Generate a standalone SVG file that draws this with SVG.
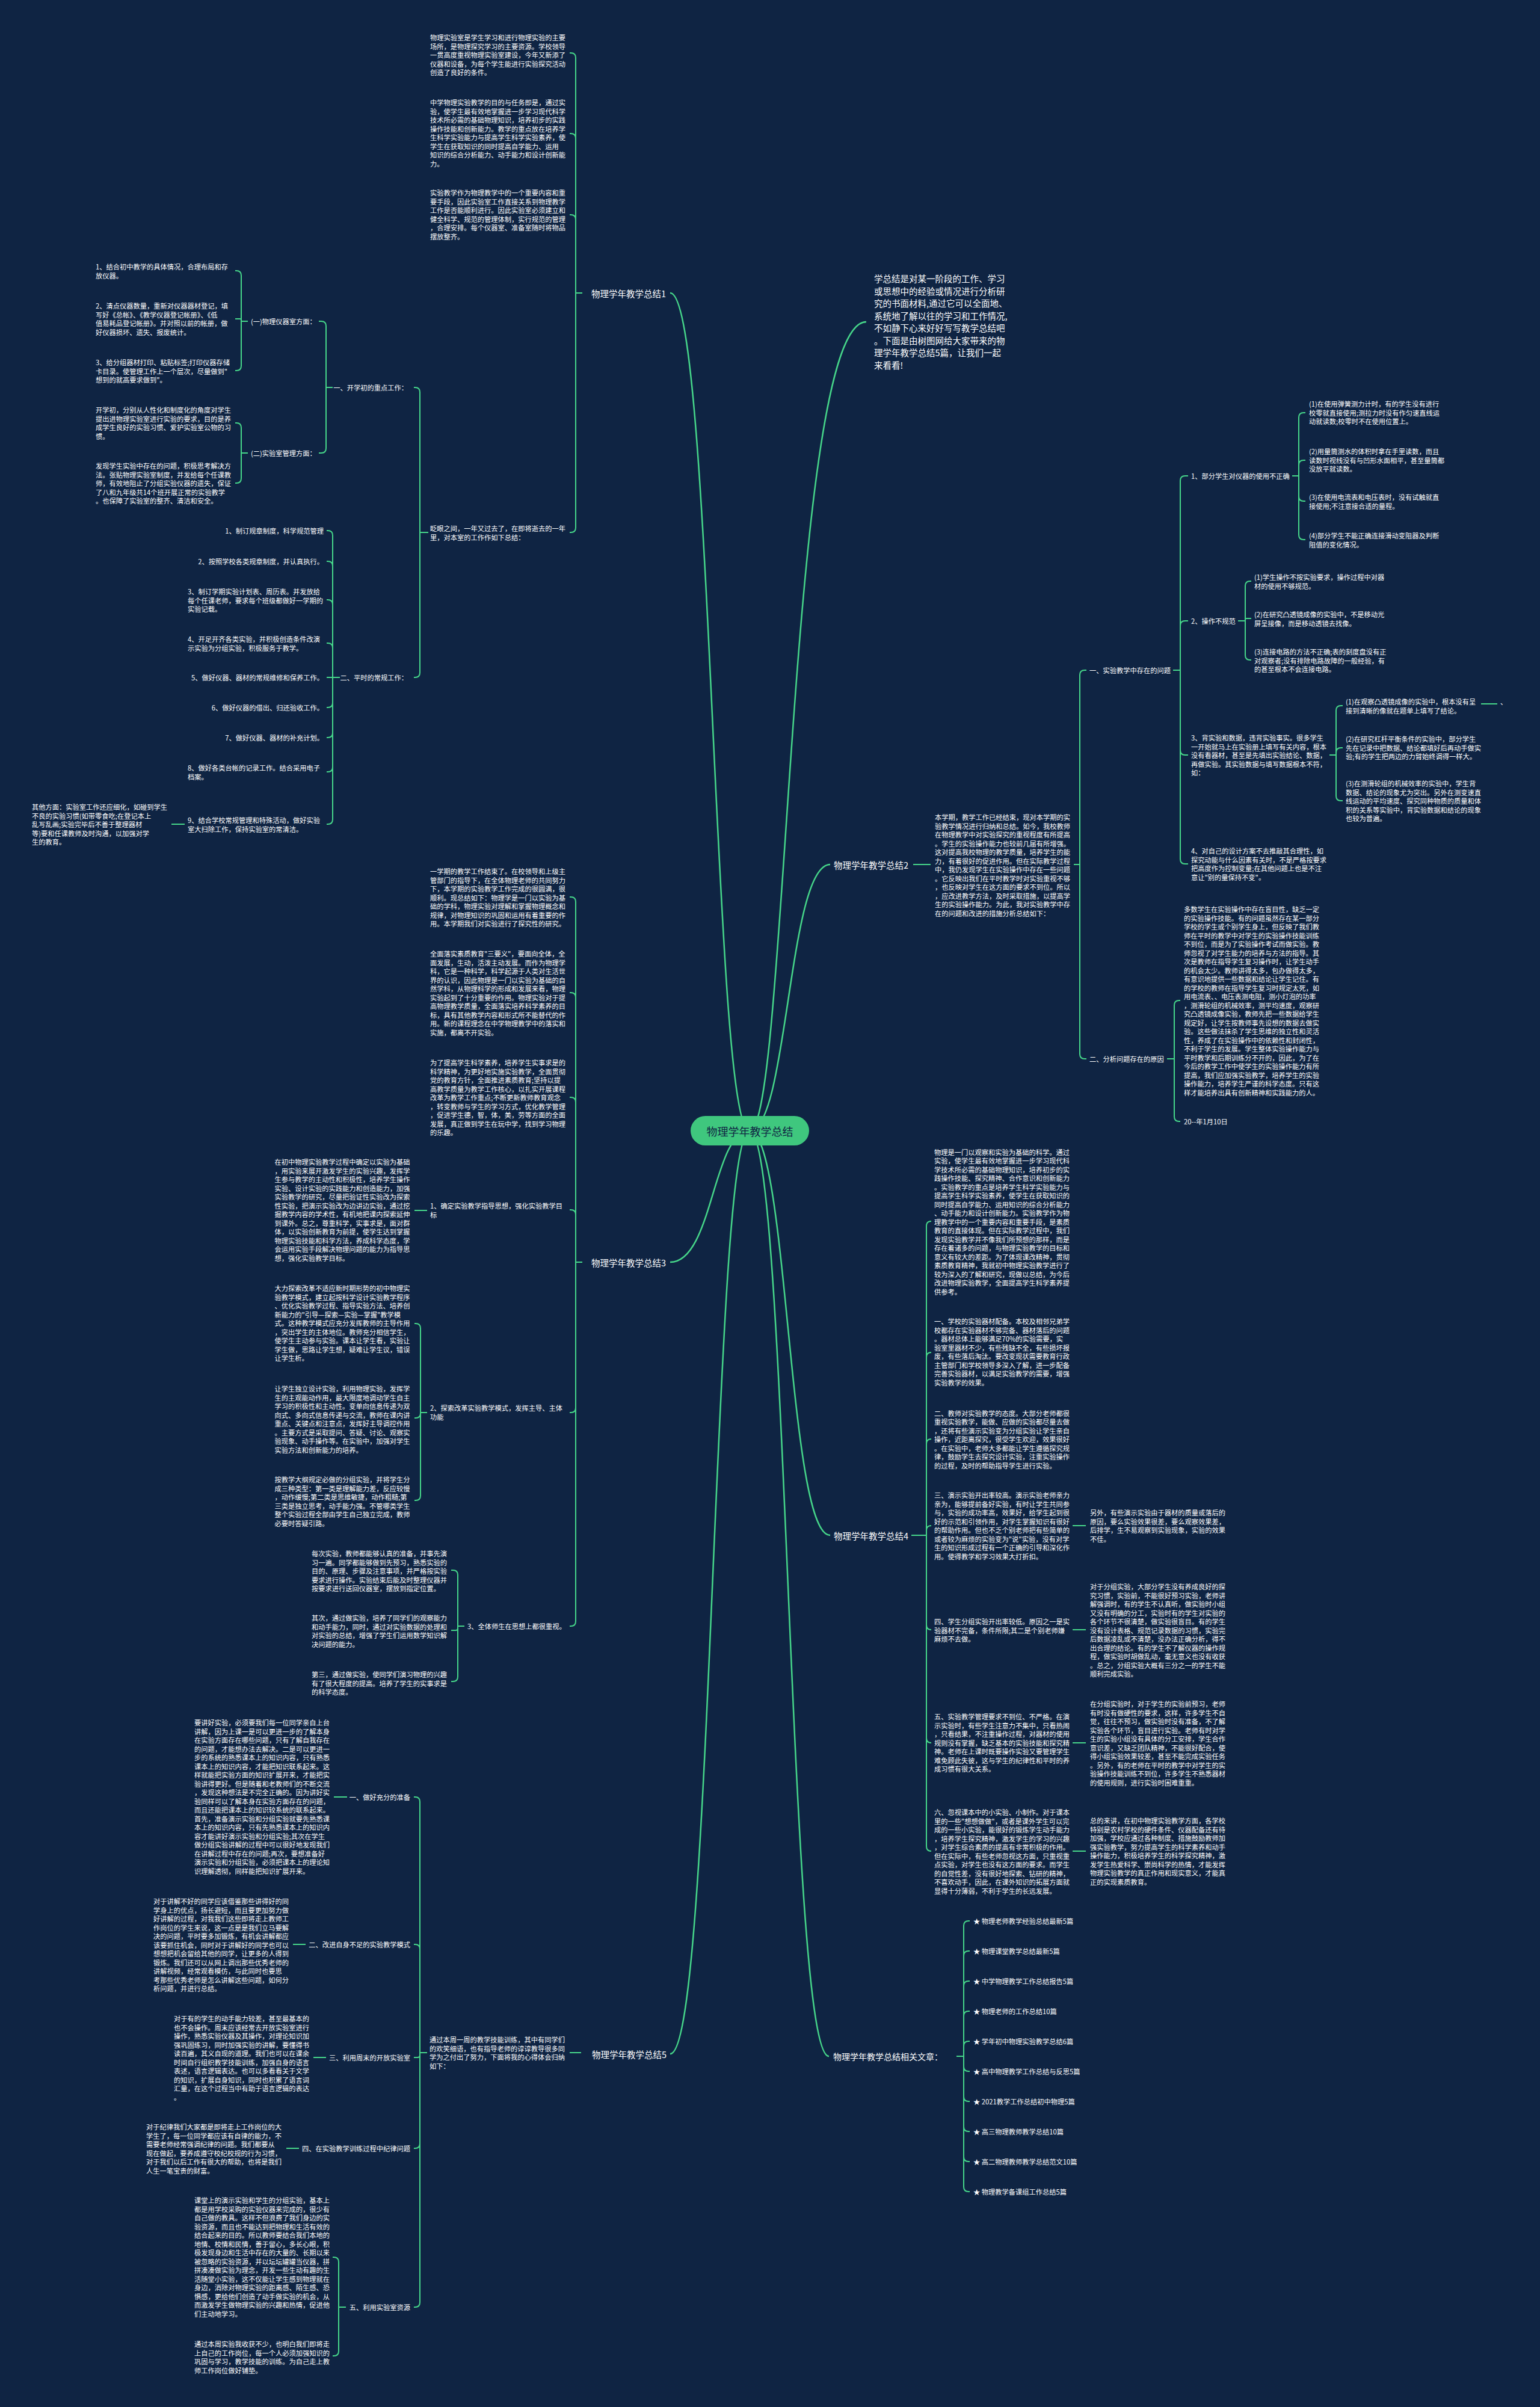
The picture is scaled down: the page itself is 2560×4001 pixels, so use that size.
<svg xmlns="http://www.w3.org/2000/svg" width="2560" height="4001" viewBox="0 0 2560 4001">
<style>
text{font-family:'Noto Sans CJK SC','Noto Sans',sans-serif;fill:#ffffff;dominant-baseline:central}
.t{font-size:11.25px}
.m{font-size:14.5px}
.i{font-size:14.5px}
.c{font-size:18px;fill:#0f2443;text-anchor:middle}
.e{text-anchor:end}
.ln{fill:none;stroke:#46d68a;stroke-width:2}
.mn{fill:none;stroke:#46d68a;stroke-width:2.5}
</style>
<rect x="0" y="0" width="2560" height="4001" fill="#0f2443"/>

<g id="connectors">
<path class="mn" d="M1246 1880 C1185 1880 1185 487 1114 487"/>
<path class="mn" d="M1246 1880 C1310 1880 1310 535 1440 535"/>
<path class="mn" d="M1246 1880 C1310 1880 1310 1437 1380 1437"/>
<path class="mn" d="M1246 1880 C1185 1880 1185 2098 1114 2098"/>
<path class="mn" d="M1246 1880 C1310 1880 1310 2552 1380 2552"/>
<path class="mn" d="M1246 1880 C1310 1880 1310 3418 1378 3418"/>
<path class="mn" d="M1246 1880 C1185 1880 1185 3414 1114 3414"/>
<!-- B1 -->
<path class="ln" d="M968 487 H957 V96 Q957 88 949 88 H947 M968 487 H957 V230 Q957 222 949 222 H947 M968 487 H957 V365 Q957 357 949 357 H947 M968 487 H957 V877 Q957 885 949 885 H947"/>
<path class="ln" d="M712 885 H698 V652 Q698 644 690 644 H688 M712 885 H698 V1118 Q698 1126 690 1126 H688"/>
<path class="ln" d="M553 644 H542 V542 Q542 534 534 534 H530 M553 644 H542 V745 Q542 753 534 753 H530"/>
<path class="ln" d="M412 534 H401 V458 Q401 450 393 450 H391 M412 534 H401 V532 Q401 530 399 530 H391 M412 534 H401 V608 Q401 616 393 616 H391"/>
<path class="ln" d="M412 753 H401 V711 Q401 703 393 703 H391 M412 753 H401 V795 Q401 803 393 803 H391"/>
<path class="ln" d="M565 1126 H553 V890 Q553 882 545 882 H543 M565 1126 H553 V941 Q553 933 545 933 H543 M565 1126 H553 V1005 Q553 997 545 997 H543 M565 1126 H553 V1077 Q553 1069 545 1069 H543 M565 1126 H543 M565 1126 H553 V1168 Q553 1176 545 1176 H543 M565 1126 H553 V1218 Q553 1226 545 1226 H543 M565 1126 H553 V1275 Q553 1283 545 1283 H543 M565 1126 H553 V1362 Q553 1370 545 1370 H543"/>
<path class="ln" d="M307 1370 H285"/>
<!-- B2 -->
<path class="ln" d="M1518 1437 H1547"/>
<path class="ln" d="M1785 1437 H1795 V1122 Q1795 1114 1803 1114 H1806 M1785 1437 H1795 V1752 Q1795 1760 1803 1760 H1806"/>
<path class="ln" d="M1950 1114 H1962 V799 Q1962 791 1970 791 H1975 M1950 1114 H1962 V1040 Q1962 1032 1970 1032 H1975 M1950 1114 H1962 V1247 Q1962 1255 1970 1255 H1975 M1950 1114 H1962 V1428 Q1962 1436 1970 1436 H1975"/>
<path class="ln" d="M2148 791 H2159 V694 Q2159 686 2167 686 H2170 M2148 791 H2159 V773 Q2159 765 2167 765 H2170 M2148 791 H2159 V825 Q2159 833 2167 833 H2170 M2148 791 H2159 V889 Q2159 897 2167 897 H2170"/>
<path class="ln" d="M2058 1032 H2070 V974 Q2070 966 2078 966 H2080 M2058 1032 H2070 V1030 Q2070 1028 2072 1028 H2080 M2058 1032 H2070 V1089 Q2070 1097 2078 1097 H2080"/>
<path class="ln" d="M2210 1255 H2221 V1181 Q2221 1173 2229 1173 H2232 M2210 1255 H2221 V1251 Q2221 1243 2229 1243 H2232 M2210 1255 H2221 V1323 Q2221 1331 2229 1331 H2232"/>
<path class="ln" d="M2462 1170 H2489"/>
<path class="ln" d="M1940 1760 H1952 V1671 Q1952 1663 1960 1663 H1962 M1940 1760 H1952 V1856 Q1952 1864 1960 1864 H1962"/>
<!-- B4 -->
<path class="ln" d="M1515 2552 H1540 V2038 Q1540 2030 1548 2030 M1515 2552 H1540 V2256 Q1540 2248 1548 2248 M1515 2552 H1540 V2400 Q1540 2392 1548 2392 M1515 2552 H1540 V2544 Q1540 2536 1548 2536 M1515 2552 H1540 V2701 Q1540 2709 1548 2709 M1515 2552 H1540 V2889 Q1540 2897 1548 2897 M1515 2552 H1540 V3069 Q1540 3077 1548 3077"/>
<path class="ln" d="M1783 2536 H1805 M1783 2709 H1805 M1783 2897 H1805 M1783 3077 H1805"/>
<!-- related -->
<path class="ln" d="M1590 3418 H1602 V3201 Q1602 3193 1610 3193 H1612 M1590 3418 H1602 V3251 Q1602 3243 1610 3243 H1612 M1590 3418 H1602 V3301 Q1602 3293 1610 3293 H1612 M1590 3418 H1602 V3351 Q1602 3343 1610 3343 H1612 M1590 3418 H1602 V3401 Q1602 3393 1610 3393 H1612 M1590 3418 H1602 V3435 Q1602 3443 1610 3443 H1612 M1590 3418 H1602 V3485 Q1602 3493 1610 3493 H1612 M1590 3418 H1602 V3535 Q1602 3543 1610 3543 H1612 M1590 3418 H1602 V3585 Q1602 3593 1610 3593 H1612 M1590 3418 H1602 V3635 Q1602 3643 1610 3643 H1612"/>
<!-- B3 -->
<path class="ln" d="M968 2098 H957 V1499 Q957 1491 949 1491 H947 M968 2098 H957 V1658 Q957 1650 949 1650 H947 M968 2098 H957 V1832 Q957 1824 949 1824 H947 M968 2098 H957 V2019 Q957 2011 949 2011 H947 M968 2098 H957 V2340 Q957 2348 949 2348 H947 M968 2098 H957 V2695 Q957 2703 949 2703 H947"/>
<path class="ln" d="M710 2012 H689"/>
<path class="ln" d="M710 2348 H699 V2208 Q699 2200 691 2200 H689 M710 2348 H699 V2349 Q699 2357 691 2357 H689 M710 2348 H699 V2486 Q699 2494 691 2494 H689"/>
<path class="ln" d="M772 2703 H761 V2618 Q761 2610 753 2610 H750 M772 2703 H761 V2706.5 Q761 2710 757.5 2710 H750 M772 2703 H761 V2787 Q761 2795 753 2795 H750"/>
<!-- B5 -->
<path class="ln" d="M966 3412 H947"/>
<path class="ln" d="M710 3412 H698 V2995 Q698 2987 690 2987 H688 M710 3412 H698 V3240 Q698 3232 690 3232 H688 M710 3412 H698 V3416 Q698 3420 694 3420 H688 M710 3412 H698 V3563 Q698 3571 690 3571 H688 M710 3412 H698 V3827 Q698 3835 690 3835 H688"/>
<path class="ln" d="M577 2987 H555 M508 3232 H487 M542 3420 H521 M497 3571 H476"/>
<path class="ln" d="M575 3835 H563 V3760 Q563 3752 555 3752 H553 M575 3835 H563 V3908 Q563 3916 555 3916 H553"/>
</g>

<g id="center">
<rect x="1148" y="1855" width="197" height="49" rx="24.5" fill="#3fc77e"/>
<text class="c" x="1246.5" y="1880">物理学年教学总结</text>
</g>

<g id="intro">
<text class="i" x="1453" y="462"><tspan x="1453">学总结是对某一阶段的工作、学习</tspan><tspan x="1453" dy="20.5">或思想中的经验或情况进行分析研</tspan><tspan x="1453" dy="20.5">究的书面材料,通过它可以全面地、</tspan><tspan x="1453" dy="20.5">系统地了解以往的学习和工作情况,</tspan><tspan x="1453" dy="20.5">不如静下心来好好写写教学总结吧</tspan><tspan x="1453" dy="20.5">。下面是由树图网给大家带来的物</tspan><tspan x="1453" dy="20.5">理学年教学总结5篇，让我们一起</tspan><tspan x="1453" dy="20.5">来看看!</tspan></text>
</g>

<!-- ================= B1 ================= -->
<g id="b1"><text class="m" x="983" y="487">物理学年教学总结1</text></g>
<g id="b1-t1"><text class="t" x="715" y="62"><tspan x="715">物理实验室是学生学习和进行物理实验的主要</tspan><tspan x="715" dy="14.5">场所，是物理探究学习的主要资源。学校领导</tspan><tspan x="715" dy="14.5">一贯高度重视物理实验室建设，今年又新添了</tspan><tspan x="715" dy="14.5">仪器和设备，为每个学生能进行实验探究活动</tspan><tspan x="715" dy="14.5">创造了良好的条件。</tspan></text></g>
<g id="b1-t2"><text class="t" x="715" y="170"><tspan x="715">中学物理实验教学的目的与任务即是，通过实</tspan><tspan x="715" dy="14.5">验，使学生最有效地掌握进一步学习现代科学</tspan><tspan x="715" dy="14.5">技术所必需的基础物理知识，培养初步的实践</tspan><tspan x="715" dy="14.5">操作技能和创新能力。教学的重点放在培养学</tspan><tspan x="715" dy="14.5">生科学实验能力与提高学生科学实验素养，使</tspan><tspan x="715" dy="14.5">学生在获取知识的同时提高自学能力、运用</tspan><tspan x="715" dy="14.5">知识的综合分析能力、动手能力和设计创新能</tspan><tspan x="715" dy="14.5">力。</tspan></text></g>
<g id="b1-t3"><text class="t" x="715" y="320"><tspan x="715">实验教学作为物理教学中的一个重要内容和重</tspan><tspan x="715" dy="14.5">要手段，因此实验室工作直接关系到物理教学</tspan><tspan x="715" dy="14.5">工作是否能顺利进行。因此实验室必须建立和</tspan><tspan x="715" dy="14.5">健全科学、规范的管理体制，实行规范的管理</tspan><tspan x="715" dy="14.5">，合理安排。每个仪器室、准备室随时将物品</tspan><tspan x="715" dy="14.5">摆放整齐。</tspan></text></g>
<g id="b1-t4"><text class="t" x="715" y="878"><tspan x="715">眨眼之间，一年又过去了，在即将逝去的一年</tspan><tspan x="715" dy="14.5">里，对本室的工作作如下总结：</tspan></text></g>
<g id="b1-s1"><text class="t e" x="678" y="644">一、开学初的重点工作：</text></g>
<g id="b1-s1a"><text class="t" x="417" y="534">(一)物理仪器室方面：</text></g>
<g id="b1-s1a1"><text class="t" x="159" y="443"><tspan x="159">1、结合初中教学的具体情况，合理布局和存</tspan><tspan x="159" dy="14.5">放仪器。</tspan></text></g>
<g id="b1-s1a2"><text class="t" x="159" y="508"><tspan x="159">2、清点仪器数量，重新对仪器器材登记，填</tspan><tspan x="159" dy="14.5">写好《总帐》、《教学仪器登记帐册》、《低</tspan><tspan x="159" dy="14.5">值易耗品登记帐册》。并对照以前的帐册，做</tspan><tspan x="159" dy="14.5">好仪器损坏、遗失、报废统计。</tspan></text></g>
<g id="b1-s1a3"><text class="t" x="159" y="602"><tspan x="159">3、给分组器材打印、粘贴标签;打印仪器存储</tspan><tspan x="159" dy="14.5">卡目录。使管理工作上一个层次，尽量做到"</tspan><tspan x="159" dy="14.5">想到的就高要求做到"。</tspan></text></g>
<g id="b1-s1b"><text class="t" x="417" y="753">(二)实验室管理方面：</text></g>
<g id="b1-s1b1"><text class="t" x="159" y="681"><tspan x="159">开学初，分别从人性化和制度化的角度对学生</tspan><tspan x="159" dy="14.5">提出进物理实验室进行实验的要求，目的是养</tspan><tspan x="159" dy="14.5">成学生良好的实验习惯、爱护实验室公物的习</tspan><tspan x="159" dy="14.5">惯。</tspan></text></g>
<g id="b1-s1b2"><text class="t" x="159" y="774"><tspan x="159">发现学生实验中存在的问题，积极思考解决方</tspan><tspan x="159" dy="14.5">法。张贴物理实验室制度，并发给每个任课教</tspan><tspan x="159" dy="14.5">师，有效地阻止了分组实验仪器的遗失，保证</tspan><tspan x="159" dy="14.5">了八和九年级共14个班开展正常的实验教学</tspan><tspan x="159" dy="14.5">。也保障了实验室的整齐、清洁和安全。</tspan></text></g>
<g id="b1-s2"><text class="t e" x="678" y="1126">二、平时的常规工作：</text></g>
<g id="b1-s2-1"><text class="t e" x="538" y="882">1、制订规章制度，科学规范管理</text></g>
<g id="b1-s2-2"><text class="t e" x="538" y="933">2、按照学校各类规章制度，并认真执行。</text></g>
<g id="b1-s2-3"><text class="t" x="312" y="983"><tspan x="312">3、制订学期实验计划表、周历表。并发放给</tspan><tspan x="312" dy="14.5">每个任课老师，要求每个班级都做好一学期的</tspan><tspan x="312" dy="14.5">实验记载。</tspan></text></g>
<g id="b1-s2-4"><text class="t" x="312" y="1062"><tspan x="312">4、开足开齐各类实验，并积极创造条件改演</tspan><tspan x="312" dy="14.5">示实验为分组实验，积极服务于教学。</tspan></text></g>
<g id="b1-s2-5"><text class="t e" x="538" y="1126">5、做好仪器、器材的常规维修和保养工作。</text></g>
<g id="b1-s2-6"><text class="t e" x="538" y="1176">6、做好仪器的借出、归还验收工作。</text></g>
<g id="b1-s2-7"><text class="t e" x="538" y="1226">7、做好仪器、器材的补充计划。</text></g>
<g id="b1-s2-8"><text class="t" x="312" y="1276"><tspan x="312">8、做好各类台帐的记录工作。结合采用电子</tspan><tspan x="312" dy="14.5">档案。</tspan></text></g>
<g id="b1-s2-9"><text class="t" x="312" y="1363"><tspan x="312">9、结合学校常规管理和特殊活动，做好实验</tspan><tspan x="312" dy="14.5">室大扫除工作，保持实验室的常清洁。</tspan></text></g>
<g id="b1-s2-9a"><text class="t" x="53" y="1341"><tspan x="53">其他方面：实验室工作还应细化，如碰到学生</tspan><tspan x="53" dy="14.5">不良的实验习惯(如带零食吃;在登记本上</tspan><tspan x="53" dy="14.5">乱写乱画;实验完毕后不善于整理器材</tspan><tspan x="53" dy="14.5">等)要和任课教师及时沟通，以加强对学</tspan><tspan x="53" dy="14.5">生的教育。</tspan></text></g>

<!-- ================= B2 ================= -->
<g id="b2"><text class="m" x="1386" y="1437">物理学年教学总结2</text></g>
<g id="b2-t"><text class="t" x="1554" y="1358"><tspan x="1554">本学期，教学工作已经结束，现对本学期的实</tspan><tspan x="1554" dy="14.5">验教学情况进行归纳和总结。如今，我校教师</tspan><tspan x="1554" dy="14.5">在物理教学中对实验探究的重视程度有所提高</tspan><tspan x="1554" dy="14.5">。学生的实验操作能力也较前几届有所增强。</tspan><tspan x="1554" dy="14.5">这对提高我校物理的教学质量，培养学生的能</tspan><tspan x="1554" dy="14.5">力，有着很好的促进作用。但在实际教学过程</tspan><tspan x="1554" dy="14.5">中，我仍发现学生在实验操作中存在一些问题</tspan><tspan x="1554" dy="14.5">。它反映出我们在平时教学时对实验重视不够</tspan><tspan x="1554" dy="14.5">，也反映对学生在这方面的要求不到位。所以</tspan><tspan x="1554" dy="14.5">，应改进教学方法，及时采取措施，以提高学</tspan><tspan x="1554" dy="14.5">生的实验操作能力。为此，我对实验教学中存</tspan><tspan x="1554" dy="14.5">在的问题和改进的措施分析总结如下：</tspan></text></g>
<g id="b2-s1"><text class="t" x="1811" y="1114">一、实验教学中存在的问题</text></g>
<g id="b2-s1-1"><text class="t" x="1980" y="791">1、部分学生对仪器的使用不正确</text></g>
<g id="b2-s1-1a"><text class="t" x="2176" y="671"><tspan x="2176">(1)在使用弹簧测力计时，有的学生没有进行</tspan><tspan x="2176" dy="14.5">校零就直接使用;测拉力时没有作匀速直线运</tspan><tspan x="2176" dy="14.5">动就读数;校零时不在使用位置上。</tspan></text></g>
<g id="b2-s1-1b"><text class="t" x="2176" y="750"><tspan x="2176">(2)用量筒测水的体积时拿在手里读数，而且</tspan><tspan x="2176" dy="14.5">读数时视线没有与凹形水面相平，甚至量筒都</tspan><tspan x="2176" dy="14.5">没放平就读数。</tspan></text></g>
<g id="b2-s1-1c"><text class="t" x="2176" y="826"><tspan x="2176">(3)在使用电流表和电压表时，没有试触就直</tspan><tspan x="2176" dy="14.5">接使用;不注意接合适的量程。</tspan></text></g>
<g id="b2-s1-1d"><text class="t" x="2176" y="890"><tspan x="2176">(4)部分学生不能正确连接滑动变阻器及判断</tspan><tspan x="2176" dy="14.5">阻值的变化情况。</tspan></text></g>
<g id="b2-s1-2"><text class="t" x="1980" y="1032">2、操作不规范</text></g>
<g id="b2-s1-2a"><text class="t" x="2085" y="959"><tspan x="2085">(1)学生操作不按实验要求，操作过程中对器</tspan><tspan x="2085" dy="14.5">材的使用不够规范。</tspan></text></g>
<g id="b2-s1-2b"><text class="t" x="2085" y="1021"><tspan x="2085">(2)在研究凸透镜成像的实验中，不是移动光</tspan><tspan x="2085" dy="14.5">屏呈接像，而是移动透镜去找像。</tspan></text></g>
<g id="b2-s1-2c"><text class="t" x="2085" y="1083"><tspan x="2085">(3)连接电路的方法不正确;表的刻度盘没有正</tspan><tspan x="2085" dy="14.5">对观察者;没有排除电路故障的一般经验，有</tspan><tspan x="2085" dy="14.5">的甚至根本不会连接电路。</tspan></text></g>
<g id="b2-s1-3"><text class="t" x="1980" y="1226"><tspan x="1980">3、背实验和数据，违背实验事实。很多学生</tspan><tspan x="1980" dy="14.5">一开始就马上在实验册上填写有关内容，根本</tspan><tspan x="1980" dy="14.5">没有看器材，甚至是先填出实验结论、数据，</tspan><tspan x="1980" dy="14.5">再做实验。其实验数据与填写数据根本不符，</tspan><tspan x="1980" dy="14.5">如：</tspan></text></g>
<g id="b2-s1-3a"><text class="t" x="2237" y="1166"><tspan x="2237">(1)在观察凸透镜成像的实验中，根本没有呈</tspan><tspan x="2237" dy="14.5">接到清晰的像就在题单上填写了结论。</tspan></text></g>
<g id="b2-s1-3a1"><text class="t" x="2494" y="1166">、</text></g>
<g id="b2-s1-3b"><text class="t" x="2237" y="1228"><tspan x="2237">(2)在研究杠杆平衡条件的实验中，部分学生</tspan><tspan x="2237" dy="14.5">先在记录中把数据、结论都填好后再动手做实</tspan><tspan x="2237" dy="14.5">验;有的学生把两边的力臂始终调得一样大。</tspan></text></g>
<g id="b2-s1-3c"><text class="t" x="2237" y="1302"><tspan x="2237">(3)在测滑轮组的机械效率的实验中，学生背</tspan><tspan x="2237" dy="14.5">数据、结论的现象尤为突出。另外在测变速直</tspan><tspan x="2237" dy="14.5">线运动的平均速度、探究同种物质的质量和体</tspan><tspan x="2237" dy="14.5">积的关系等实验中，背实验数据和结论的现象</tspan><tspan x="2237" dy="14.5">也较为普遍。</tspan></text></g>
<g id="b2-s1-4"><text class="t" x="1980" y="1414"><tspan x="1980">4、对自己的设计方案不去推敲其合理性，如</tspan><tspan x="1980" dy="14.5">探究动能与什么因素有关时，不是严格按要求</tspan><tspan x="1980" dy="14.5">把高度作为控制变量;在其他问题上也是不注</tspan><tspan x="1980" dy="14.5">意让"别的量保持不变"。</tspan></text></g>
<g id="b2-s2"><text class="t" x="1811" y="1760">二、分析问题存在的原因</text></g>
<g id="b2-s2a"><text class="t" x="1968" y="1511"><tspan x="1968">多数学生在实验操作中存在盲目性，缺乏一定</tspan><tspan x="1968" dy="14.5">的实验操作技能。有的问题虽然存在某一部分</tspan><tspan x="1968" dy="14.5">学校的学生或个别学生身上，但反映了我们教</tspan><tspan x="1968" dy="14.5">师在平时的教学中对学生的实验操作技能训练</tspan><tspan x="1968" dy="14.5">不到位，而是为了实验操作考试而做实验。教</tspan><tspan x="1968" dy="14.5">师忽视了对学生能力的培养与方法的指导。其</tspan><tspan x="1968" dy="14.5">次是教师在指导学生复习操作时，让学生动手</tspan><tspan x="1968" dy="14.5">的机会太少。教师讲得太多，包办做得太多，</tspan><tspan x="1968" dy="14.5">有意识地提供一些数据和结论让学生记住。有</tspan><tspan x="1968" dy="14.5">的学校的教师在指导学生复习时规定太死，如</tspan><tspan x="1968" dy="14.5">用电流表、、电压表测电阻，测小灯泡的功率</tspan><tspan x="1968" dy="14.5">，测滑轮组的机械效率，测平均速度，观察研</tspan><tspan x="1968" dy="14.5">究凸透镜成像实验，教师先把一些数据给学生</tspan><tspan x="1968" dy="14.5">规定好，让学生按教师事先设想的数据去做实</tspan><tspan x="1968" dy="14.5">验。这些做法抹杀了学生思维的独立性和灵活</tspan><tspan x="1968" dy="14.5">性，养成了在实验操作中的依赖性和封闭性，</tspan><tspan x="1968" dy="14.5">不利于学生的发展。学生整体实验操作能力与</tspan><tspan x="1968" dy="14.5">平时教学和后期训练分不开的，因此，为了在</tspan><tspan x="1968" dy="14.5">今后的教学工作中使学生的实验操作能力有所</tspan><tspan x="1968" dy="14.5">提高，我们应加强实验教学，培养学生的实验</tspan><tspan x="1968" dy="14.5">操作能力，培养学生严谨的科学态度。只有这</tspan><tspan x="1968" dy="14.5">样才能培养出具有创新精神和实践能力的人。</tspan></text></g>
<g id="b2-s2b"><text class="t" x="1968" y="1864">20--年1月10日</text></g>

<!-- ================= B4 ================= -->
<g id="b4"><text class="m" x="1386" y="2552">物理学年教学总结4</text></g>
<g id="b4-a"><text class="t" x="1553" y="1914.5"><tspan x="1553">物理是一门以观察和实验为基础的科学。通过</tspan><tspan x="1553" dy="14.5">实验，使学生最有效地掌握进一步学习现代科</tspan><tspan x="1553" dy="14.5">学技术所必需的基础物理知识，培养初步的实</tspan><tspan x="1553" dy="14.5">践操作技能、探究精神、合作意识和创新能力</tspan><tspan x="1553" dy="14.5">。实验教学的重点是培养学生科学实验能力与</tspan><tspan x="1553" dy="14.5">提高学生科学实验素养，使学生在获取知识的</tspan><tspan x="1553" dy="14.5">同时提高自学能力、运用知识的综合分析能力</tspan><tspan x="1553" dy="14.5">、动手能力和设计创新能力。实验教学作为物</tspan><tspan x="1553" dy="14.5">理教学中的一个重要内容和重要手段，是素质</tspan><tspan x="1553" dy="14.5">教育的直接体现。但在实际教学过程中，我们</tspan><tspan x="1553" dy="14.5">发现实验教学并不像我们所预想的那样，而是</tspan><tspan x="1553" dy="14.5">存在着诸多的问题，与物理实验教学的目标和</tspan><tspan x="1553" dy="14.5">意义有较大的差距。为了体现课改精神，贯彻</tspan><tspan x="1553" dy="14.5">素质教育精神，我就初中物理实验教学进行了</tspan><tspan x="1553" dy="14.5">较为深入的了解和研究，现做以总结，为今后</tspan><tspan x="1553" dy="14.5">改进物理实验教学，全面提高学生科学素养提</tspan><tspan x="1553" dy="14.5">供参考。</tspan></text></g>
<g id="b4-b"><text class="t" x="1553" y="2196"><tspan x="1553">一、学校的实验器材配备。本校及相邻兄弟学</tspan><tspan x="1553" dy="14.5">校都存在实验器材不够完备、器材落后的问题</tspan><tspan x="1553" dy="14.5">。器材总体上能够满足70%的实验需要，实</tspan><tspan x="1553" dy="14.5">验室里器材不少，有些残缺不全，有些损坏报</tspan><tspan x="1553" dy="14.5">废，有些落后淘汰。要改变现状需要教育行政</tspan><tspan x="1553" dy="14.5">主管部门和学校领导多深入了解，进一步配备</tspan><tspan x="1553" dy="14.5">完善实验器材，以满足实验教学的需要，增强</tspan><tspan x="1553" dy="14.5">实验教学的效果。</tspan></text></g>
<g id="b4-c"><text class="t" x="1553" y="2348.5"><tspan x="1553">二、教师对实验教学的态度。大部分老师都很</tspan><tspan x="1553" dy="14.5">重视实验教学，能做、应做的实验都尽量去做</tspan><tspan x="1553" dy="14.5">，还将有些演示实验变为分组实验让学生亲自</tspan><tspan x="1553" dy="14.5">操作，近距离探究，很受学生欢迎，效果很好</tspan><tspan x="1553" dy="14.5">。在实验中，老师大多都能让学生遵循探究规</tspan><tspan x="1553" dy="14.5">律，鼓励学生去探究设计实验，注重实验操作</tspan><tspan x="1553" dy="14.5">的过程，及时的帮助指导学生进行实验。</tspan></text></g>
<g id="b4-d"><text class="t" x="1553" y="2485"><tspan x="1553">三、演示实验开出率较高。演示实验老师亲力</tspan><tspan x="1553" dy="14.5">亲为，能够提前备好实验，有时让学生共同参</tspan><tspan x="1553" dy="14.5">与，实验的成功率高，效果好，给学生起到很</tspan><tspan x="1553" dy="14.5">好的示范和引领作用，对学生掌握知识有很好</tspan><tspan x="1553" dy="14.5">的帮助作用。但也不乏个别老师把有些简单的</tspan><tspan x="1553" dy="14.5">或者较为麻烦的实验变为"说"实验，没有对学</tspan><tspan x="1553" dy="14.5">生的知识形成过程有一个正确的引导和深化作</tspan><tspan x="1553" dy="14.5">用。使得教学和学习效果大打折扣。</tspan></text></g>
<g id="b4-d1"><text class="t" x="1812" y="2514"><tspan x="1812">另外，有些演示实验由于器材的质量或落后的</tspan><tspan x="1812" dy="14.5">原因，要么实验效果很差，要么观察效果差，</tspan><tspan x="1812" dy="14.5">后排学，生不易观察到实验现象，实验的效果</tspan><tspan x="1812" dy="14.5">不佳。</tspan></text></g>
<g id="b4-e"><text class="t" x="1553" y="2695"><tspan x="1553">四、学生分组实验开出率较低。原因之一是实</tspan><tspan x="1553" dy="14.5">验器材不完备，条件所限;其二是个别老师嫌</tspan><tspan x="1553" dy="14.5">麻烦不去做。</tspan></text></g>
<g id="b4-e1"><text class="t" x="1812" y="2637"><tspan x="1812">对于分组实验，大部分学生没有养成良好的探</tspan><tspan x="1812" dy="14.5">究习惯，实验前，不能很好预习实验，老师讲</tspan><tspan x="1812" dy="14.5">解强调时，有的学生不认真听，做实验时小组</tspan><tspan x="1812" dy="14.5">又没有明确的分工，实验时有的学生对实验的</tspan><tspan x="1812" dy="14.5">各个环节不很清楚，做实验很盲目。有的学生</tspan><tspan x="1812" dy="14.5">没有设计表格、规范记录数据的习惯，实验完</tspan><tspan x="1812" dy="14.5">后数据凌乱或不清楚，没办法正确分析，得不</tspan><tspan x="1812" dy="14.5">出合理的结论。有的学生不了解仪器的操作规</tspan><tspan x="1812" dy="14.5">程，做实验时胡做乱动，毫无意义也没有收获</tspan><tspan x="1812" dy="14.5">。总之，分组实验大概有三分之一的学生不能</tspan><tspan x="1812" dy="14.5">顺利完成实验。</tspan></text></g>
<g id="b4-f"><text class="t" x="1553" y="2853"><tspan x="1553">五、实验教学管理要求不到位、不严格。在演</tspan><tspan x="1553" dy="14.5">示实验时，有些学生注意力不集中，只看热闹</tspan><tspan x="1553" dy="14.5">，只看结果，不注重操作过程，对器材的使用</tspan><tspan x="1553" dy="14.5">规则没有掌握，缺乏基本的实验技能和探究精</tspan><tspan x="1553" dy="14.5">神。老师在上课时既要操作实验又要管理学生</tspan><tspan x="1553" dy="14.5">难免顾此失彼，这与学生的纪律性和平时的养</tspan><tspan x="1553" dy="14.5">成习惯有很大关系。</tspan></text></g>
<g id="b4-f1"><text class="t" x="1812" y="2832"><tspan x="1812">在分组实验时，对于学生的实验前预习，老师</tspan><tspan x="1812" dy="14.5">有时没有做硬性的要求，这样，许多学生不自</tspan><tspan x="1812" dy="14.5">觉，往往不预习，做实验时没有准备，不了解</tspan><tspan x="1812" dy="14.5">实验各个环节，盲目进行实验。老师有时对学</tspan><tspan x="1812" dy="14.5">生的实验小组没有具体的分工安排，学生合作</tspan><tspan x="1812" dy="14.5">意识差，又缺乏团队精神，不能很好配合，使</tspan><tspan x="1812" dy="14.5">得小组实验效果较差，甚至不能完成实验任务</tspan><tspan x="1812" dy="14.5">。另外，有的老师在平时的教学中对学生的实</tspan><tspan x="1812" dy="14.5">验操作技能训练不到位，许多学生不熟悉器材</tspan><tspan x="1812" dy="14.5">的使用规则，进行实验时困难重重。</tspan></text></g>
<g id="b4-g"><text class="t" x="1553" y="3012"><tspan x="1553">六、忽视课本中的小实验、小制作。对于课本</tspan><tspan x="1553" dy="14.5">里的一些"想想做做"，或者是课外学生可以完</tspan><tspan x="1553" dy="14.5">成的一些小实验，能很好的锻炼学生动手能力</tspan><tspan x="1553" dy="14.5">，培养学生探究精神，激发学生的学习的兴趣</tspan><tspan x="1553" dy="14.5">，对学生综合素质的提高有非常积极的作用。</tspan><tspan x="1553" dy="14.5">但在实际中，有些老师忽视这方面，只重视重</tspan><tspan x="1553" dy="14.5">点实验，对学生也没有这方面的要求。而学生</tspan><tspan x="1553" dy="14.5">的自觉性差，没有很好地探索、钻研的精神，</tspan><tspan x="1553" dy="14.5">不喜欢动手，因此，在课外知识的拓展方面就</tspan><tspan x="1553" dy="14.5">显得十分薄弱，不利于学生的长远发展。</tspan></text></g>
<g id="b4-g1"><text class="t" x="1812" y="3026"><tspan x="1812">总的来讲，在初中物理实验教学方面，各学校</tspan><tspan x="1812" dy="14.5">特别是农村学校的硬件条件、仪器配备还有待</tspan><tspan x="1812" dy="14.5">加强，学校应通过各种制度、措施鼓励教师加</tspan><tspan x="1812" dy="14.5">强实验教学，努力提高学生的科学素养和动手</tspan><tspan x="1812" dy="14.5">操作能力，积极培养学生的科学探究精神，激</tspan><tspan x="1812" dy="14.5">发学生热爱科学、崇尚科学的热情，才能发挥</tspan><tspan x="1812" dy="14.5">物理实验教学的真正作用和现实意义，才能真</tspan><tspan x="1812" dy="14.5">正的实现素质教育。</tspan></text></g>

<!-- ================= related ================= -->
<g id="rel"><text class="m" x="1385" y="3418" style="font-size:14px">物理学年教学总结相关文章：</text></g>
<g id="rel-1"><text class="t" x="1618" y="3193">★ 物理老师教学经验总结最新5篇</text></g>
<g id="rel-2"><text class="t" x="1618" y="3243">★ 物理课堂教学总结最新5篇</text></g>
<g id="rel-3"><text class="t" x="1618" y="3293">★ 中学物理教学工作总结报告5篇</text></g>
<g id="rel-4"><text class="t" x="1618" y="3343">★ 物理老师的工作总结10篇</text></g>
<g id="rel-5"><text class="t" x="1618" y="3393">★ 学年初中物理实验教学总结6篇</text></g>
<g id="rel-6"><text class="t" x="1618" y="3443">★ 高中物理教学工作总结与反思5篇</text></g>
<g id="rel-7"><text class="t" x="1618" y="3493">★ 2021教学工作总结初中物理5篇</text></g>
<g id="rel-8"><text class="t" x="1618" y="3543">★ 高三物理教师教学总结10篇</text></g>
<g id="rel-9"><text class="t" x="1618" y="3593">★ 高二物理教师教学总结范文10篇</text></g>
<g id="rel-10"><text class="t" x="1618" y="3643">★ 物理教学备课组工作总结5篇</text></g>

<!-- ================= B3 ================= -->
<g id="b3"><text class="m" x="983" y="2098">物理学年教学总结3</text></g>
<g id="b3-a"><text class="t" x="715" y="1448"><tspan x="715">一学期的教学工作结束了。在校领导和上级主</tspan><tspan x="715" dy="14.5">管部门的指导下，在全体物理老师的共同努力</tspan><tspan x="715" dy="14.5">下，本学期的实验教学工作完成的很圆满，很</tspan><tspan x="715" dy="14.5">顺利。现总结如下：物理学是一门以实验为基</tspan><tspan x="715" dy="14.5">础的学科，物理实验对理解和掌握物理概念和</tspan><tspan x="715" dy="14.5">规律，对物理知识的巩固和运用有着重要的作</tspan><tspan x="715" dy="14.5">用。本学期我们对实验进行了探究性的研究。</tspan></text></g>
<g id="b3-b"><text class="t" x="715" y="1585"><tspan x="715">全面落实素质教育"三要义"，要面向全体，全</tspan><tspan x="715" dy="14.5">面发展，生动，活泼主动发展。而作为物理学</tspan><tspan x="715" dy="14.5">科，它是一种科学，科学起源于人类对生活世</tspan><tspan x="715" dy="14.5">界的认识，因此物理是一门以实验为基础的自</tspan><tspan x="715" dy="14.5">然学科，从物理科学的形成和发展来看，物理</tspan><tspan x="715" dy="14.5">实验起到了十分重要的作用。物理实验对于提</tspan><tspan x="715" dy="14.5">高物理教学质量，全面落实培养科学素养的目</tspan><tspan x="715" dy="14.5">标，具有其他教学内容和形式所不能替代的作</tspan><tspan x="715" dy="14.5">用。新的课程理念在中学物理教学中的落实和</tspan><tspan x="715" dy="14.5">实施，都离不开实验。</tspan></text></g>
<g id="b3-c"><text class="t" x="715" y="1766"><tspan x="715">为了提高学生科学素养，培养学生实事求是的</tspan><tspan x="715" dy="14.5">科学精神，为更好地实施实验教学，全面贯彻</tspan><tspan x="715" dy="14.5">党的教育方针，全面推进素质教育;坚持以提</tspan><tspan x="715" dy="14.5">高教学质量为教学工作核心，以扎实开展课程</tspan><tspan x="715" dy="14.5">改革为教学工作重点;不断更新教师教育观念</tspan><tspan x="715" dy="14.5">，转变教师与学生的学习方式，优化教学管理</tspan><tspan x="715" dy="14.5">，促进学生德，智，体，美，劳等方面的全面</tspan><tspan x="715" dy="14.5">发展，真正做到学生在玩中学，找到学习物理</tspan><tspan x="715" dy="14.5">的乐趣。</tspan></text></g>
<g id="b3-d"><text class="t" x="715" y="2004"><tspan x="715">1、确定实验教学指导思想，强化实验教学目</tspan><tspan x="715" dy="14.5">标</tspan></text></g>
<g id="b3-d1"><text class="t" x="456.5" y="1931"><tspan x="456.5">在初中物理实验教学过程中确定以实验为基础</tspan><tspan x="456.5" dy="14.5">，用实验来展开激发学生的实验兴趣，发挥学</tspan><tspan x="456.5" dy="14.5">生参与教学的主动性和积极性，培养学生操作</tspan><tspan x="456.5" dy="14.5">实验、设计实验的实践能力和创造能力，加强</tspan><tspan x="456.5" dy="14.5">实验教学的研究，尽量把验证性实验改为探索</tspan><tspan x="456.5" dy="14.5">性实验，把演示实验改为边讲边实验，通过挖</tspan><tspan x="456.5" dy="14.5">掘教学内容的学术性，有机地把课内探索延伸</tspan><tspan x="456.5" dy="14.5">到课外。总之，尊重科学，实事求是，面对群</tspan><tspan x="456.5" dy="14.5">体，以实验创新教育为前提，使学生达到掌握</tspan><tspan x="456.5" dy="14.5">物理实验技能和科学方法，养成科学态度，学</tspan><tspan x="456.5" dy="14.5">会运用实验手段解决物理问题的能力为指导思</tspan><tspan x="456.5" dy="14.5">想，强化实验教学目标。</tspan></text></g>
<g id="b3-e"><text class="t" x="715" y="2340"><tspan x="715">2、探索改革实验教学模式，发挥主导、主体</tspan><tspan x="715" dy="14.5">功能</tspan></text></g>
<g id="b3-e1"><text class="t" x="456.5" y="2141"><tspan x="456.5">大力探索改革不适应新时期形势的初中物理实</tspan><tspan x="456.5" dy="14.5">验教学模式，建立起按科学设计实验教学程序</tspan><tspan x="456.5" dy="14.5">、优化实验教学过程、指导实验方法、培养创</tspan><tspan x="456.5" dy="14.5">新能力的"引导—探索—实验—掌握"教学模</tspan><tspan x="456.5" dy="14.5">式。这种教学模式应充分发挥教师的主导作用</tspan><tspan x="456.5" dy="14.5">，突出学生的主体地位。教师充分相信学生，</tspan><tspan x="456.5" dy="14.5">使学生主动参与实验。课本让学生看，实验让</tspan><tspan x="456.5" dy="14.5">学生做，思路让学生想，疑难让学生议，错误</tspan><tspan x="456.5" dy="14.5">让学生析。</tspan></text></g>
<g id="b3-e2"><text class="t" x="456.5" y="2308"><tspan x="456.5">让学生独立设计实验，利用物理实验，发挥学</tspan><tspan x="456.5" dy="14.5">生的主观能动作用，最大限度地调动学生自主</tspan><tspan x="456.5" dy="14.5">学习的积极性和主动性。变单向信息传递为双</tspan><tspan x="456.5" dy="14.5">向式、多向式信息传递与交流，教师在课内讲</tspan><tspan x="456.5" dy="14.5">重点、关键点和注意点，发挥好主导调控作用</tspan><tspan x="456.5" dy="14.5">。主要方式是采取提问、答疑、讨论、观察实</tspan><tspan x="456.5" dy="14.5">验现象、动手操作等。在实验中，加强对学生</tspan><tspan x="456.5" dy="14.5">实验方法和创新能力的培养。</tspan></text></g>
<g id="b3-e3"><text class="t" x="456.5" y="2459"><tspan x="456.5">按教学大纲规定必做的分组实验，并将学生分</tspan><tspan x="456.5" dy="14.5">成三种类型：第一类是理解能力差，反应较慢</tspan><tspan x="456.5" dy="14.5">，动作缓慢;第二类是思维敏捷，动作粗糙;第</tspan><tspan x="456.5" dy="14.5">三类是独立思考，动手能力强。不管哪类学生</tspan><tspan x="456.5" dy="14.5">整个实验过程全部由学生自己独立完成，教师</tspan><tspan x="456.5" dy="14.5">必要时答疑引路。</tspan></text></g>
<g id="b3-f"><text class="t" x="777" y="2703">3、全体师生在思想上都很重视。</text></g>
<g id="b3-f1"><text class="t" x="518" y="2582"><tspan x="518">每次实验，教师都能够认真的准备，并事先演</tspan><tspan x="518" dy="14.5">习一遍。同学都能够做到先预习，熟悉实验的</tspan><tspan x="518" dy="14.5">目的、原理、步骤及注意事项，并严格按实验</tspan><tspan x="518" dy="14.5">要求进行操作。实验结束后能及时整理仪器并</tspan><tspan x="518" dy="14.5">按要求进行送回仪器室，摆放到指定位置。</tspan></text></g>
<g id="b3-f2"><text class="t" x="518" y="2689"><tspan x="518">其次，通过做实验，培养了同学们的观察能力</tspan><tspan x="518" dy="14.5">和动手能力，同时，通过对实验数据的处理和</tspan><tspan x="518" dy="14.5">对实验的总结，增强了学生们运用数学知识解</tspan><tspan x="518" dy="14.5">决问题的能力。</tspan></text></g>
<g id="b3-f3"><text class="t" x="518" y="2783"><tspan x="518">第三，通过做实验，使同学们演习物理的兴趣</tspan><tspan x="518" dy="14.5">有了很大程度的提高。培养了学生的实事求是</tspan><tspan x="518" dy="14.5">的科学态度。</tspan></text></g>

<!-- ================= B5 ================= -->
<g id="b5"><text class="m" x="984" y="3414">物理学年教学总结5</text></g>
<g id="b5-t"><text class="t" x="714" y="3390"><tspan x="714">通过本周一周的教学技能训练，其中有同学们</tspan><tspan x="714" dy="14.5">的欢笑细语，也有指导老师的谆谆教导很多同</tspan><tspan x="714" dy="14.5">学为之付出了努力，下面将我的心得体会归纳</tspan><tspan x="714" dy="14.5">如下：</tspan></text></g>
<g id="b5-1"><text class="t e" x="682" y="2987">一、做好充分的准备</text></g>
<g id="b5-1a"><text class="t" x="323" y="2863"><tspan x="323">要讲好实验，必须要我们每一位同学亲自上台</tspan><tspan x="323" dy="14.5">讲解，因为上课一是可以更进一步的了解本身</tspan><tspan x="323" dy="14.5">在实验方面存在哪些问题，只有了解自我存在</tspan><tspan x="323" dy="14.5">的问题，才能想办法去解决。二是可以更进一</tspan><tspan x="323" dy="14.5">步的系统的熟悉课本上的知识内容，只有熟悉</tspan><tspan x="323" dy="14.5">课本上的知识内容，才能把知识联系起来。这</tspan><tspan x="323" dy="14.5">样就能把实验方面的知识扩展开来，才能把实</tspan><tspan x="323" dy="14.5">验讲得更好。但是随着和老教师们的不断交流</tspan><tspan x="323" dy="14.5">，发现这种想法是不完全正确的。因为讲好实</tspan><tspan x="323" dy="14.5">验同样可以了解本身在实验方面存在的问题，</tspan><tspan x="323" dy="14.5">而且还能把课本上的知识较系统的联系起来。</tspan><tspan x="323" dy="14.5">首先，准备演示实验和分组实验就要先熟悉课</tspan><tspan x="323" dy="14.5">本上的知识内容，只有先熟悉课本上的知识内</tspan><tspan x="323" dy="14.5">容才能讲好演示实验和分组实验;其次在学生</tspan><tspan x="323" dy="14.5">做分组实验讲解的过程中可以很好地发现我们</tspan><tspan x="323" dy="14.5">在讲解过程中存在的问题;再次，要想准备好</tspan><tspan x="323" dy="14.5">演示实验和分组实验，必须把课本上的理论知</tspan><tspan x="323" dy="14.5">识理解透彻，同样能把知识扩展开来。</tspan></text></g>
<g id="b5-2"><text class="t e" x="682" y="3232">二、改进自身不足的实验教学模式</text></g>
<g id="b5-2a"><text class="t" x="255" y="3160"><tspan x="255">对于讲解不好的同学应该借鉴那些讲得好的同</tspan><tspan x="255" dy="14.5">学身上的优点，扬长避短，而且要更加努力做</tspan><tspan x="255" dy="14.5">好讲解的过程，对我我们这些即将走上教师工</tspan><tspan x="255" dy="14.5">作岗位的学生来说，这一点是是我们立马要解</tspan><tspan x="255" dy="14.5">决的问题，平时要多加锻炼，有机会讲解都应</tspan><tspan x="255" dy="14.5">该要抓住机会，同时对于讲解好的同学也可以</tspan><tspan x="255" dy="14.5">想想把机会留给其他的同学，让更多的人得到</tspan><tspan x="255" dy="14.5">锻炼。我们还可以从网上调出那些优秀老师的</tspan><tspan x="255" dy="14.5">讲解视频，经常观看模仿，与此同时也要思</tspan><tspan x="255" dy="14.5">考那些优秀老师是怎么讲解这些问题，如何分</tspan><tspan x="255" dy="14.5">析问题，并进行总结。</tspan></text></g>
<g id="b5-3"><text class="t e" x="682" y="3420">三、利用周末的开放实验室</text></g>
<g id="b5-3a"><text class="t" x="289" y="3355"><tspan x="289">对于有的学生的动手能力较差，甚至最基本的</tspan><tspan x="289" dy="14.5">也不会操作。周末应该经常去开放实验室进行</tspan><tspan x="289" dy="14.5">操作，熟悉实验仪器及其操作，对理论知识加</tspan><tspan x="289" dy="14.5">强巩固练习，同时加强实验的讲解，要懂得书</tspan><tspan x="289" dy="14.5">读百遍，其义自现的道理。我们也可以在课余</tspan><tspan x="289" dy="14.5">时间自行组织教学技能训练，加强自身的语言</tspan><tspan x="289" dy="14.5">表述，语言逻辑表达。也可以多看看关于文学</tspan><tspan x="289" dy="14.5">的知识，扩展自身知识，同时也积累了语言词</tspan><tspan x="289" dy="14.5">汇量，在这个过程当中有助于语言逻辑的表达</tspan><tspan x="289" dy="14.5">。</tspan></text></g>
<g id="b5-4"><text class="t e" x="682" y="3571">四、在实验教学训练过程中纪律问题</text></g>
<g id="b5-4a"><text class="t" x="243" y="3535"><tspan x="243">对于纪律我们大家都是即将走上工作岗位的大</tspan><tspan x="243" dy="14.5">学生了，每一位同学都应该有自律的能力，不</tspan><tspan x="243" dy="14.5">需要老师经常强调纪律的问题。我们都要从</tspan><tspan x="243" dy="14.5">现在做起，要养成遵守校纪校规的行为习惯，</tspan><tspan x="243" dy="14.5">对于我们以后工作有很大的帮助，也将是我们</tspan><tspan x="243" dy="14.5">人生一笔宝贵的财富。</tspan></text></g>
<g id="b5-5"><text class="t e" x="682" y="3835">五、利用实验室资源</text></g>
<g id="b5-5a"><text class="t" x="323" y="3657"><tspan x="323">课堂上的演示实验和学生的分组实验，基本上</tspan><tspan x="323" dy="14.5">都是用学校采购的实验仪器来完成的，很少有</tspan><tspan x="323" dy="14.5">自己做的教具。这样不但浪费了我们身边的实</tspan><tspan x="323" dy="14.5">验资源，而且也不能达到把物理和生活有效的</tspan><tspan x="323" dy="14.5">结合起来的目的。所以教师要结合我们本地的</tspan><tspan x="323" dy="14.5">地情、校情和民情，善于留心，多长心眼，积</tspan><tspan x="323" dy="14.5">极发现身边和生活中存在的大量的、长期以来</tspan><tspan x="323" dy="14.5">被忽略的实验资源，并以坛坛罐罐当仪器，拼</tspan><tspan x="323" dy="14.5">拼凑凑做实验为理念，开发一些生动有趣的生</tspan><tspan x="323" dy="14.5">活随堂小实验，这不仅能让学生感到物理就在</tspan><tspan x="323" dy="14.5">身边，消除对物理实验的距离感、陌生感、恐</tspan><tspan x="323" dy="14.5">惧感，更给他们创造了动手做实验的机会，从</tspan><tspan x="323" dy="14.5">而激发学生做物理实验的兴趣和热情，促进他</tspan><tspan x="323" dy="14.5">们主动地学习。</tspan></text></g>
<g id="b5-5b"><text class="t" x="323" y="3896"><tspan x="323">通过本周实验我收获不少，也明白我们即将走</tspan><tspan x="323" dy="14.5">上自己的工作岗位，每一个人必须加强知识的</tspan><tspan x="323" dy="14.5">巩固与学习，教学技能的训练。为自己走上教</tspan><tspan x="323" dy="14.5">师工作岗位做好铺垫。</tspan></text></g>
</svg>
